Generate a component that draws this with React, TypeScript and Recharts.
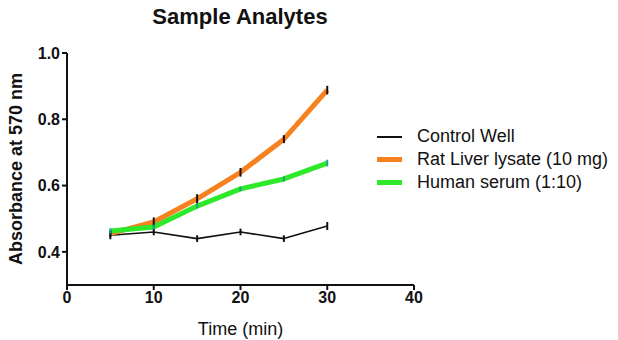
import {LineChart, Line, XAxis, YAxis, ErrorBar, Label} from 'recharts';

const times = [5, 10, 15, 20, 25, 30];
const controlWell = [0.45, 0.46, 0.44, 0.46, 0.44, 0.478];
const ratLiver = [0.455, 0.49, 0.56, 0.64, 0.74, 0.888];
const humanSerum = [0.463, 0.475, 0.538, 0.59, 0.62, 0.668];
const controlErr = [0.012, 0.01, 0.01, 0.01, 0.01, 0.012];
const ratErr = [0.01, 0.014, 0.014, 0.013, 0.012, 0.013];
const humanErr = [0.008, 0.007, 0.007, 0.007, 0.008, 0.01];
const xTicks = [0, 10, 20, 30, 40];
const yTicks = [0.4, 0.6, 0.8, 1.0];

const series = [
    {key: 'control', name: 'Control Well', color: '#111111', width: 1.6, errColor: '#111111'},
    {key: 'rat', name: 'Rat Liver lysate (10 mg)', color: '#f5821f', width: 5, errColor: '#111111'},
    {key: 'human', name: 'Human serum (1:10)', color: '#2ee82a', width: 5, errColor: '#1aa58a'},
];

const data = times.map((t, i) => ({
    time: t,
    control: controlWell[i],
    controlErr: controlErr[i],
    rat: ratLiver[i],
    ratErr: ratErr[i],
    human: humanSerum[i],
    humanErr: humanErr[i],
}));

const font = 'Arial, "Liberation Sans", sans-serif';

function LegendBox() {
    return (
        <div style={{position: 'absolute', left: 377, top: 125, fontFamily: font, fontSize: 18, color: '#111'}}>
            {series.map((s) => (
                <div key={s.key} style={{display: 'flex', alignItems: 'center', height: 23}}>
                    <span style={{display: 'inline-block', width: 25, height: s.key === 'control' ? 2 : 5, background: s.color, marginRight: 15}}/>
                    <span>{s.name}</span>
                </div>
            ))}
        </div>
    );
}

export default function App() {
    return (
        <div style={{position: 'absolute', left: 0, top: 0, width: 618, height: 340, background: '#fff'}}>
            <div style={{position: 'absolute', left: 0, top: 4, width: 480, textAlign: 'center', fontFamily: font, fontWeight: 'bold', fontSize: 22, color: '#111'}}>
                Sample Analytes
            </div>
            <LineChart width={618} height={340} data={data} margin={{top: 53, right: 204, bottom: 0, left: 0}}>
                <XAxis dataKey="time" type="number" domain={[0, 40]} ticks={xTicks} height={55}
                       axisLine={{stroke: '#111', strokeWidth: 2}} tickLine={{stroke: '#111', strokeWidth: 2}} tickSize={5}
                       tick={{fill: '#111', fontSize: 16, fontWeight: 'bold', fontFamily: font}}>
                    <Label value="Time (min)" position="insideBottom" offset={5} style={{fill: '#111', fontSize: 18, fontFamily: font}}/>
                </XAxis>
                <YAxis type="number" domain={[0.3, 1.0]} ticks={yTicks} width={67} tickFormatter={(v: number) => v.toFixed(1)}
                       axisLine={{stroke: '#111', strokeWidth: 2}} tickLine={{stroke: '#111', strokeWidth: 2}} tickSize={5}
                       tick={{fill: '#111', fontSize: 16, fontWeight: 'bold', fontFamily: font}}>
                    <Label value="Absorbance at 570 nm" angle={-90} position="insideLeft" offset={16}
                           style={{fill: '#111', fontSize: 18, fontWeight: 'bold', fontFamily: font, textAnchor: 'middle'}}/>
                </YAxis>
                {series.map((s) => (
                    <Line key={s.key} dataKey={s.key} name={s.name} stroke={s.color} strokeWidth={s.width}
                          dot={false} isAnimationActive={false} strokeLinejoin="round"/>
                ))}
                {/* error bars drawn on top of the thick lines */}
                {series.map((s) => (
                    <Line key={s.key + '-err'} dataKey={s.key} stroke="none" dot={false} activeDot={false}
                          legendType="none" isAnimationActive={false}>
                        <ErrorBar dataKey={s.key + 'Err'} width={0} stroke={s.errColor} strokeWidth={2} direction="y"/>
                    </Line>
                ))}
            </LineChart>
            <LegendBox/>
        </div>
    );
}
